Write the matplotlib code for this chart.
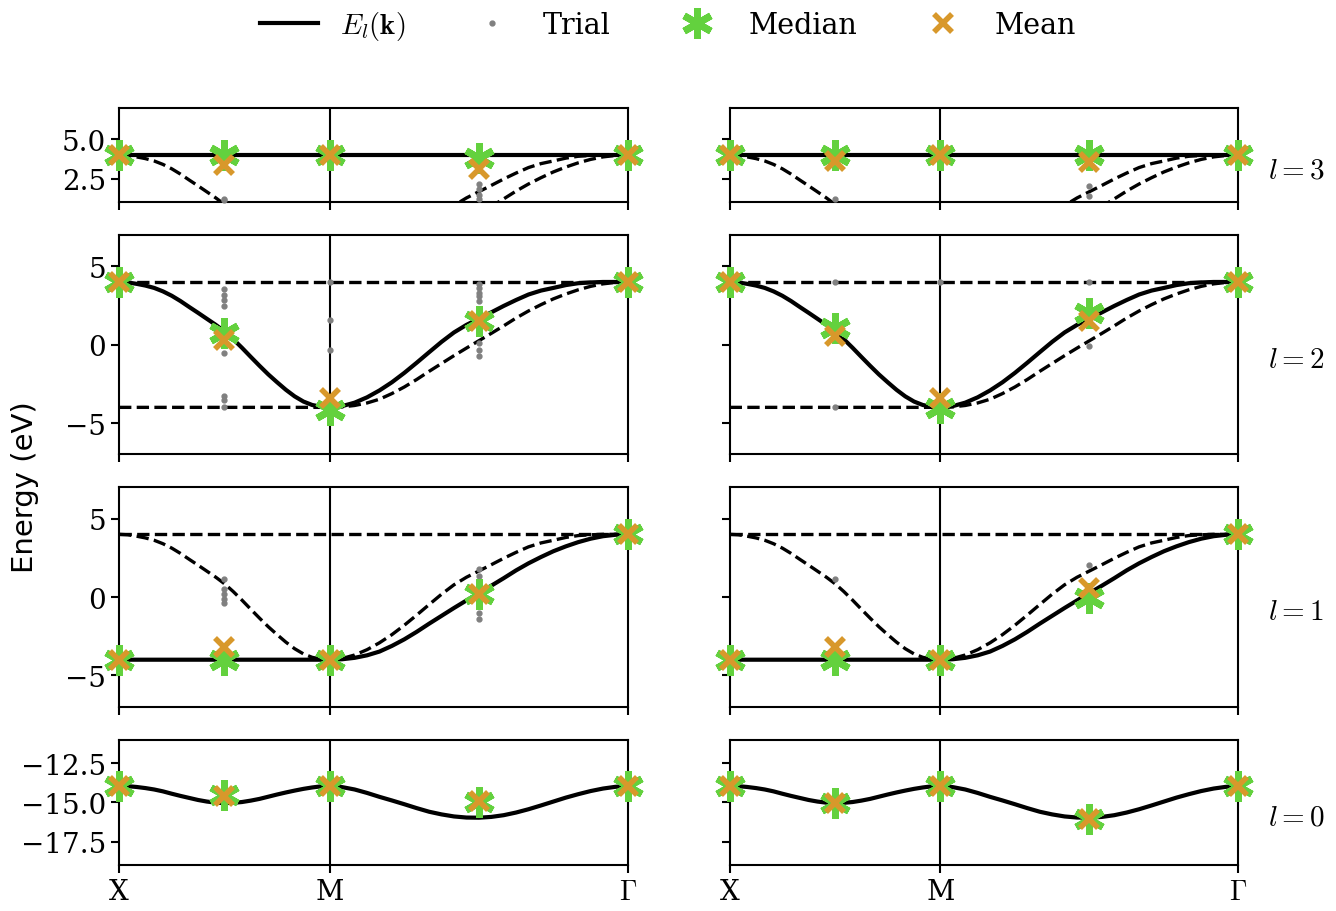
import numpy as np
import matplotlib
matplotlib.use("Agg")
import matplotlib.pyplot as plt
from matplotlib.lines import Line2D

plt.rcParams["font.family"] = "serif"
plt.rcParams["mathtext.fontset"] = "cm"
plt.rcParams["font.size"] = 20

# k-path: X -> M (length 1), M -> Gamma (length sqrt 2), read every 1/24 of a segment
seg_frac = np.linspace(0, 1, 25)
k_labels = ["X", "M", r"$\Gamma$"]

# band energies (eV) read along X->M and M->Gamma
band0_xm = [-13.94, -13.97, -14.02, -14.09, -14.18, -14.3, -14.45, -14.59, -14.72, -14.85, -14.95, -15.02,
            -15.05, -15.03, -14.98, -14.89, -14.78, -14.64, -14.5, -14.37, -14.25, -14.14, -14.05, -13.98, -13.94]
band0_mg = [-13.94, -14.03, -14.18, -14.4, -14.65, -14.88, -15.12, -15.37, -15.6, -15.77, -15.9, -15.97,
            -15.98, -15.93, -15.82, -15.65, -15.44, -15.2, -14.95, -14.7, -14.48, -14.28, -14.12, -14.01, -13.94]
band1_xm = [-4.0] * 25
band1_mg = [-4.0, -3.97, -3.88, -3.72, -3.48, -3.12, -2.7, -2.22, -1.7, -1.2, -0.7, -0.22,
            0.25, 0.72, 1.2, 1.7, 2.15, 2.55, 2.92, 3.23, 3.5, 3.72, 3.88, 3.97, 4.0]
band2_xm = [4.0, 3.97, 3.88, 3.77, 3.62, 3.4, 3.12, 2.78, 2.4, 2.03, 1.65, 1.27,
            0.85, 0.35, -0.2, -0.78, -1.35, -1.9, -2.4, -2.88, -3.3, -3.63, -3.85, -3.96, -4.0]
band2_mg = [-4.0, -3.92, -3.7, -3.36, -2.92, -2.4, -1.8, -1.15, -0.48, 0.18, 0.78, 1.26,
            1.66, 2.06, 2.47, 2.85, 3.2, 3.45, 3.62, 3.8, 3.92, 3.97, 4.0, 4.0, 4.0]
band3_xm = [4.0] * 25
band3_mg = [4.0] * 25

# markers at X, mid X-M, M, mid M-Gamma, Gamma  (rows: l = 0..3)
median_left = [[-13.94, -14.5, -13.94, -14.95, -13.94],
               [-4.0, -4.0, -4.0, 0.17, 4.0],
               [4.0, 0.73, -4.15, 1.5, 4.0],
               [4.0, 4.0, 4.0, 3.8, 4.0]]
mean_left = [[-13.94, -14.6, -13.94, -14.9, -13.94],
             [-4.0, -3.22, -4.0, 0.17, 4.0],
             [4.0, 0.32, -3.42, 1.5, 4.0],
             [4.0, 3.35, 4.0, 3.13, 4.0]]
median_right = [[-13.94, -15.04, -13.94, -16.04, -13.94],
                [-4.0, -4.05, -4.0, -0.04, 4.0],
                [4.0, 1.07, -4.06, 2.03, 4.0],
                [4.0, 4.0, 4.0, 4.0, 4.0]]
mean_right = [[-13.94, -15.04, -13.94, -16.04, -13.94],
              [-4.0, -3.22, -4.0, 0.6, 4.0],
              [4.0, 0.53, -3.42, 1.5, 4.0],
              [4.0, 3.6, 4.0, 3.56, 4.0]]

# trial predictions: (k-point index, energy)
trials_left = [[],
               [(1, 1.13), (1, 0.49), (1, 0.17), (1, -0.15), (1, -0.4),
                (3, 1.81), (3, 1.34), (3, -0.99), (3, -1.42)],
               [(1, 3.53), (1, 3.2), (1, 2.84), (1, 2.46), (1, -0.53), (1, -3.3), (1, -3.5), (1, -4.0),
                (2, 4.0), (2, 1.6), (2, -0.32),
                (3, 3.85), (3, 3.63), (3, 3.31), (3, 3.1), (3, 2.78), (3, 0.1), (3, -0.32), (3, -0.75)],
               [(1, 1.2), (1, 1.1), (3, 2.18), (3, 1.86), (3, 1.43), (3, 1.22)]]
trials_right = [[],
                [(1, 1.13), (3, 2.02)],
                [(1, 4.0), (1, -4.0), (2, 4.0), (3, 4.0), (3, -0.1)],
                [(1, 1.2), (3, 2.03), (3, 1.39)]]

ylims = [(-19, -11), (-7, 7), (-7, 7), (1, 7)]
yticks = [[-17.5, -15.0, -12.5], [-5, 0, 5], [-5, 0, 5], [2.5, 5.0]]

green = "#63d13e"
orange = "#d8982b"

sq2 = np.sqrt(2)
k_dist = np.concatenate([seg_frac, 1 + sq2 * seg_frac[1:]])
k_marks = np.array([0, 0.5, 1, 1 + sq2 / 2, 1 + sq2])
bands = [band0_xm + band0_mg[1:], band1_xm + band1_mg[1:],
         band2_xm + band2_mg[1:], band3_xm + band3_mg[1:]]

fig, axes = plt.subplots(4, 2, figsize=(13.36, 9.12), sharex=True, sharey="row",
                         gridspec_kw=dict(height_ratios=[6, 14, 14, 8], left=0.0891, right=0.927,
                                          top=0.8805, bottom=0.0504))

for col, (med, mea, tri) in enumerate([(median_left, mean_left, trials_left),
                                       (median_right, mean_right, trials_right)]):
    for row in range(4):
        l = 3 - row
        ax = axes[row, col]
        for b in range(4):
            if b == l:
                ax.plot(k_dist, bands[b], color="black", lw=3, zorder=3)
            elif b > 0:
                ax.plot(k_dist, bands[b], color="black", lw=2.4, ls="--", zorder=2)
        ax.axvline(1, color="black", lw=1.5, zorder=1)
        if tri[l]:
            ti = [k_marks[i] for i, e in tri[l]]
            te = [e for i, e in tri[l]]
            ax.plot(ti, te, "o", color="gray", ms=3.5, zorder=4, clip_on=False)
        ax.plot(k_marks, med[l], ls="none", marker=(6, 2, 0), ms=22, mew=5,
                color=green, zorder=5, clip_on=False)
        ax.plot(k_marks, mea[l], ls="none", marker="x", ms=13, mew=4,
                color=orange, zorder=6, clip_on=False)
        ax.set_xlim(0, 1 + sq2)
        ax.set_ylim(ylims[l])
        ax.set_yticks(yticks[l])
        for s in ax.spines.values():
            s.set_linewidth(1.5)
        ax.tick_params(width=1.5, length=6)
        if col == 1:
            ax.text(1.059, 0.5, rf"$l={l}$", transform=ax.transAxes,
                    ha="left", va="top", fontsize=21)

axes[-1, 0].set_xticks([0, 1, 1 + sq2])
axes[-1, 0].set_xticklabels(k_labels)

fig.text(0.019, 0.4655, "Energy (eV)", rotation=90, ha="center", va="center",
         family="DejaVu Sans", fontsize=21)

handles = [Line2D([], [], color="black", lw=3),
           Line2D([], [], ls="none", marker="o", color="gray", ms=3.5),
           Line2D([], [], ls="none", marker=(6, 2, 0), ms=22, mew=5, color=green),
           Line2D([], [], ls="none", marker="x", ms=13, mew=4, color=orange)]
fig.legend(handles, [r"$E_l(\mathbf{k})$", "Trial", "Median", "Mean"],
           loc="upper center", bbox_to_anchor=(0.5, 1.017), ncol=4, frameon=False, fontsize=20.6)

fig.savefig("out.png", dpi=100)
